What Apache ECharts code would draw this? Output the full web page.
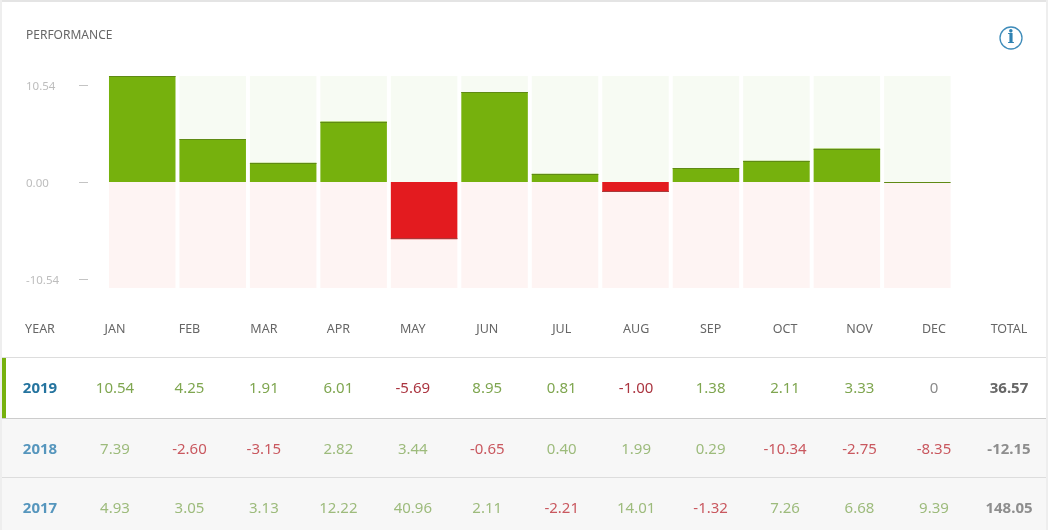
<!DOCTYPE html>
<html>
<head>
<meta charset="utf-8">
<style>
  html, body { margin: 0; padding: 0; background: #fff; }
  #main { width: 1048px; height: 530px; }
</style>
<script src="https://cdn.jsdelivr.net/npm/echarts@6/dist/echarts.min.js"></script>
</head>
<body>
<div id="main"></div>
<script>
var months = ['JAN', 'FEB', 'MAR', 'APR', 'MAY', 'JUN', 'JUL', 'AUG', 'SEP', 'OCT', 'NOV', 'DEC'];
var years = ['2019', '2018', '2017'];
var values2019 = ['10.54', '4.25', '1.91', '6.01', '-5.69', '8.95', '0.81', '-1.00', '1.38', '2.11', '3.33', '0'];
var values2018 = ['7.39', '-2.60', '-3.15', '2.82', '3.44', '-0.65', '0.40', '1.99', '0.29', '-10.34', '-2.75', '-8.35'];
var values2017 = ['4.93', '3.05', '3.13', '12.22', '40.96', '2.11', '-2.21', '14.01', '-1.32', '7.26', '6.68', '9.39'];
var totals = ['36.57', '-12.15', '148.05'];
var axisLimit = 10.54;
var tickValues = [-10.54, 0, 10.54];

var FONT = '"Noto Sans", sans-serif';
var rows = [values2019, values2018, values2017];

// 表格每行的位置和颜色
var rowStyle = [
    { y: 389, year: '#25749f', up: '#7fa650', down: '#ab3540', total: '#666666', zero: '#8a8a8a' },
    { y: 450, year: '#5696bd', up: '#9dbb7c', down: '#c9585f', total: '#8e8e8e', zero: '#8a8a8a' },
    { y: 509, year: '#5696bd', up: '#9dbb7c', down: '#c9585f', total: '#8e8e8e', zero: '#8a8a8a' }
];
var colX = function (i) { return 115 + i * 74.45; };

function cell(x, y, text, color, size, bold) {
    return {
        type: 'text',
        x: x, y: y,
        silent: true,
        style: {
            text: text, fill: color, align: 'center', verticalAlign: 'middle',
            font: (bold ? 'bold ' : '') + size + 'px ' + FONT
        }
    };
}
function box(x, y, w, h, color) {
    return { type: 'rect', silent: true, z: -1, shape: { x: x, y: y, width: w, height: h }, style: { fill: color } };
}

var graphics = [
    // 外框和背景
    box(0, 0, 1048, 2, '#e4e4e4'),
    box(0, 0, 2, 530, '#eeeeee'),
    box(1046, 0, 2, 530, '#eeeeee'),
    box(2, 418, 1044, 112, '#f7f7f7'),
    box(2, 357, 1044, 1, '#dddddd'),
    box(2, 418, 1044, 1, '#cccccc'),
    box(2, 477, 1044, 1, '#dddddd'),
    box(2, 358, 4, 60, '#76b10d'),
    { type: 'text', x: 26, y: 36, silent: true, style: { text: 'PERFORMANCE', fill: '#666666', align: 'left', verticalAlign: 'middle', font: '12px ' + FONT } },
    // 右上角信息图标
    { type: 'circle', silent: true, shape: { cx: 1011, cy: 38, r: 11 }, style: { fill: '#fff', stroke: '#3f8cba', lineWidth: 1.3 } },
    { type: 'text', x: 1011, y: 38, silent: true, style: { text: 'i', fill: '#2f82b2', align: 'center', verticalAlign: 'middle', font: 'bold 18px "DejaVu Serif", serif' } },
    // 表头
    cell(40, 329, 'YEAR', '#666666', 12.5),
    cell(1009, 329, 'TOTAL', '#666666', 12.5)
];
months.forEach(function (m, i) {
    graphics.push(cell(colX(i), 329, m, '#666666', 12.5));
});
rows.forEach(function (row, r) {
    var st = rowStyle[r];
    graphics.push(cell(40, st.y, years[r], st.year, 15, true));
    row.forEach(function (v, i) {
        var color = v === '0' ? st.zero : (v.charAt(0) === '-' ? st.down : st.up);
        graphics.push(cell(colX(i), st.y, v, color, 15));
    });
    graphics.push(cell(1009, st.y, totals[r], st.total, 15, true));
});

var chart = echarts.init(document.querySelector('#main'));
var option = {
    animation: false,
    graphic: graphics,
    grid: { left: 107, right: 95.4, top: 76, bottom: 242 },
    xAxis: {
        type: 'category',
        data: months,
        axisLine: { show: false },
        axisTick: { show: false },
        axisLabel: { show: false }
    },
    yAxis: [
        // 柱子用的刻度
        {
            type: 'value', min: -axisLimit, max: axisLimit,
            axisLine: { show: false }, axisTick: { show: false },
            axisLabel: { show: false }, splitLine: { show: false }
        },
        // 刻度标签比柱子顶端略靠内，所以单独一个轴
        {
            type: 'value', position: 'left', offset: 19, min: -11.52, max: 11.52,
            axisLine: { show: false },
            axisTick: { show: true, length: 9, customValues: tickValues, lineStyle: { color: '#c4c4c4' } },
            axisLabel: {
                show: true, margin: 62, align: 'left',
                customValues: tickValues,
                formatter: function (v) { return '{t|' + v.toFixed(2) + '}'; },
                rich: {
                    // 标签比刻度线低一点
                    t: { color: '#bdbdbd', fontSize: 11.5, fontFamily: FONT, padding: [3, 0, 0, 0] }
                }
            },
            splitLine: { show: false }
        }
    ],
    series: [
        {
            // 上下两块浅色底
            type: 'custom',
            silent: true,
            z: 1,
            data: months.map(function (m, i) { return i; }),
            encode: { x: 0, y: -1 },
            renderItem: function (params, api) {
                var x = api.coord([api.value(0), 0])[0];
                var w = 66.5;
                var top = api.coord([0, axisLimit])[1];
                var mid = api.coord([0, 0])[1];
                var bot = api.coord([0, -axisLimit])[1];
                return {
                    type: 'group',
                    children: [
                        { type: 'rect', shape: { x: x - w / 2, y: top, width: w, height: mid - top }, style: { fill: '#f7fbf3' } },
                        { type: 'rect', shape: { x: x - w / 2, y: mid, width: w, height: bot - mid }, style: { fill: '#fef4f3' } }
                    ]
                };
            }
        },
        {
            // 2019 每月柱子，柱端有一条深色线
            type: 'custom',
            silent: true,
            z: 2,
            data: values2019.map(function (v, i) { return [i, Number(v)]; }),
            encode: { x: 0, y: 1 },
            renderItem: function (params, api) {
                var v = api.value(1);
                var p = api.coord([api.value(0), v]);
                var mid = api.coord([0, 0])[1];
                var w = 66.5;
                var x = p[0] - w / 2;
                return {
                    type: 'group',
                    children: [
                        {
                            type: 'rect',
                            shape: { x: x, y: Math.min(p[1], mid), width: w, height: Math.abs(mid - p[1]) },
                            style: { fill: v >= 0 ? '#76b10d' : '#e31b1f' }
                        },
                        {
                            type: 'rect',
                            shape: { x: x, y: v >= 0 ? Math.round(p[1]) : Math.round(p[1]) - 1, width: w, height: 1 },
                            style: { fill: v >= 0 ? '#5f8a14' : '#a83a3a' }
                        }
                    ]
                };
            }
        }
    ]
};
chart.setOption(option);
</script>
</body>
</html>
